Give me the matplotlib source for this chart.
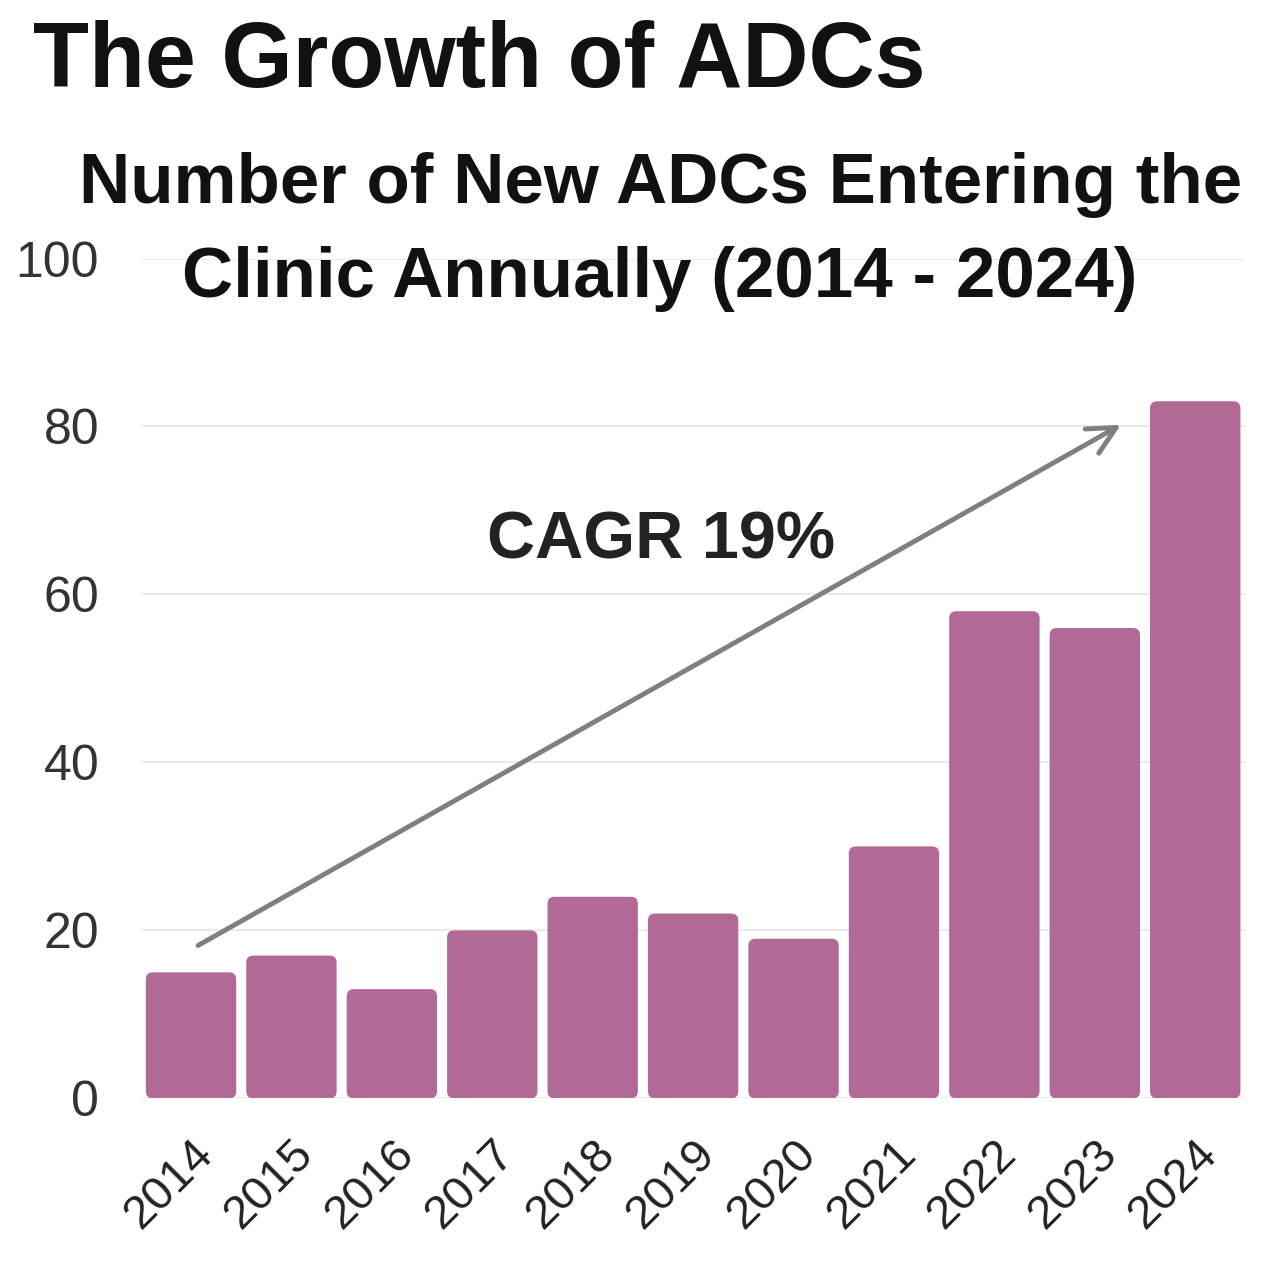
import matplotlib.pyplot as plt
from matplotlib.patches import FancyBboxPatch

years = ["2014", "2015", "2016", "2017", "2018", "2019",
         "2020", "2021", "2022", "2023", "2024"]
new_adcs = [15, 17, 13, 20, 24, 22, 19, 30, 58, 56, 83]
y_ticks = [0, 20, 40, 60, 80, 100]
arrow_start = (0.07, 18.2)
arrow_end = (9.26, 80.2)

BAR = "#b06a95"
plt.rcParams["font.family"] = ["Liberation Sans", "DejaVu Sans"]

fig = plt.figure(figsize=(12.8, 12.61), dpi=100)
ax = fig.add_axes([0.110, 0.129, 0.863, 0.666])

x = list(range(len(years)))
bars = ax.bar(x, new_adcs, width=0.9, color="none", edgecolor="none")
# swap plain rectangles for rounded ones
for b in bars:
    rb = FancyBboxPatch((b.get_x(), b.get_y()), b.get_width(), b.get_height(),
                        boxstyle="round,pad=0,rounding_size=0.07",
                        mutation_aspect=12, facecolor=BAR, edgecolor="none",
                        zorder=2)
    ax.add_patch(rb)

ax.set_xlim(-0.5, len(years) - 0.5)
ax.set_ylim(0, 100)
ax.set_yticks(y_ticks)
ax.set_yticklabels([str(t) for t in y_ticks], fontsize=36, color="#333333")
ax.set_xticks(x)
ax.set_xticklabels(years, rotation=45, ha="right", rotation_mode="anchor",
                   fontsize=34, color="#222222")
ax.tick_params(axis="both", length=0)
ax.tick_params(axis="y", pad=30)
ax.tick_params(axis="x", pad=24)
ax.grid(axis="y", color="#e6e6e6", linewidth=1.2, zorder=0)
ax.set_axisbelow(True)
for s in ax.spines.values():
    s.set_visible(False)

ax.annotate("", xy=arrow_end, xytext=arrow_start,
            arrowprops=dict(arrowstyle="->,head_length=0.8,head_width=0.4",
                            color="#7f7f7f", lw=3.5, mutation_scale=25,
                            shrinkA=0, shrinkB=0), zorder=3)
ax.text(4.68, 64.3, "CAGR 19%", ha="center", va="baseline", fontsize=48,
        fontweight="bold", color="#222222", zorder=4)

fig.text(0.026, 0.931, "The Growth of ADCs", ha="left", va="baseline",
         fontsize=66, fontweight="bold", color="#111111")
fig.text(0.516, 0.839, "Number of New ADCs Entering the",
         ha="center", va="baseline", fontsize=51, fontweight="bold",
         color="#111111")
fig.text(0.515, 0.7645, "Clinic Annually (2014 - 2024)",
         ha="center", va="baseline", fontsize=51, fontweight="bold",
         color="#111111")

fig.savefig("out.png", dpi=100)
